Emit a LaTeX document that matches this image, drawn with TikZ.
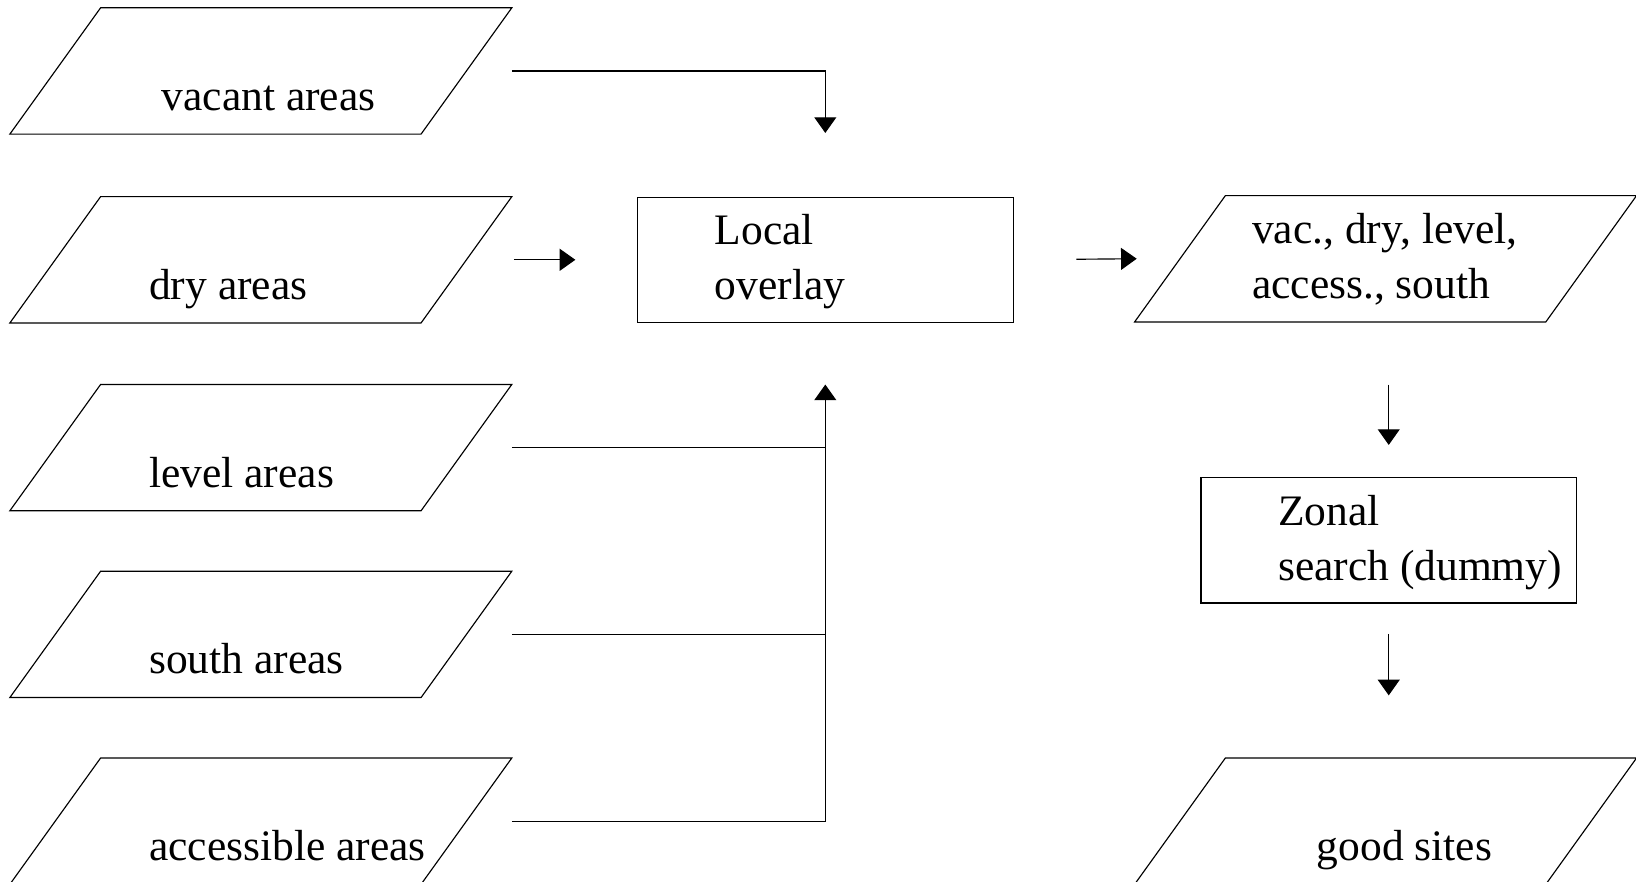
\documentclass[tikz,border=0pt]{standalone}
\usepackage{fontspec}
\setmainfont{Liberation Serif}
\usetikzlibrary{arrows.meta}

\newcommand{\ioshape}[1]{%
  \draw (#1.south west) -- ([xshift=87pt]#1.north west) -- (#1.north east)
    -- ([xshift=-87pt]#1.south east) -- cycle;}

\begin{document}
\begin{tikzpicture}[x=1pt,y=-1pt,>={Triangle[length=15pt,width=21pt]},line width=1.1pt,
  io node/.style={rectangle,minimum width=480pt,minimum height=120pt,inner sep=0pt},
  proc node/.style={rectangle,draw,minimum width=360pt,minimum height=120pt,inner sep=0pt},
  txt node/.style={anchor=base west,inner sep=0pt,align=left,
        font=\fontsize{41.7pt}{52.7pt}\selectfont}]
  \useasboundingbox (0,0) rectangle (1568,845);

  % input layers
  \node[io node] (vac) at (250,68) {};
  \node[io node] (dry) at (250,249) {};
  \node[io node] (lev) at (250,429) {};
  \node[io node] (sth) at (250,608) {};
  \node[io node] (acc) at (250,787) {};
  \ioshape{vac} \ioshape{dry} \ioshape{lev} \ioshape{sth} \ioshape{acc}
  \node[txt node] (vactxt) at ([xshift=145pt,yshift=-98.5pt]vac.north west) {vacant areas};
  \node[txt node] (drytxt) at ([xshift=133pt,yshift=-98.5pt]dry.north west) {dry areas};
  \node[txt node] (levtxt) at ([xshift=133pt,yshift=-98.5pt]lev.north west) {level areas};
  \node[txt node] (sthtxt) at ([xshift=133pt,yshift=-98.5pt]sth.north west) {south areas};
  \node[txt node] (acctxt) at ([xshift=133pt,yshift=-98.5pt]acc.north west) {accessible areas};

  % operations and results
  \node[proc node] (loc) at (791,249) {};
  \node[io node]   (res) at (1328,248) {};
  \node[proc node] (zon) at (1331,518) {};
  \node[io node]   (good) at (1328,787) {};
  \ioshape{res} \ioshape{good}
  \node[txt node] (loctxt) at ([xshift=74pt,yshift=-98.7pt]loc.north west) {Local\\overlay};
  \node[txt node] (restxt) at ([xshift=112pt,yshift=-98.7pt]res.north west) {vac., dry, level,\\access., south};
  \node[txt node] (zontxt) at ([xshift=74pt,yshift=-98.7pt]zon.north west) {Zonal\\search (dummy)};
  \node[txt node] (goodtxt) at ([xshift=174pt,yshift=-98.5pt]good.north west) {good sites};

  \draw[->,shorten >=61pt] (vac.east) -| (loc.north);
  \path[->] (dry.east) edge[shorten <=2pt,shorten >=59pt] (loc.west);
  \draw (lev.east) -- (lev.east -| loc.south);
  \draw (sth.east) -- (sth.east -| loc.south);
  \draw[->,shorten >=59pt] (acc.east) -| (loc.south);
  \path[->] (loc.east) edge[shorten <=60pt,shorten >=-2pt] (res.west);
  \draw[->,shorten <=60pt,shorten >=31pt] (res.south -| zon.north) -- (zon.north);
  \draw[->,shorten <=29pt,shorten >=60pt] (zon.south) -- (zon.south |- good.north);
\end{tikzpicture}
\end{document}
